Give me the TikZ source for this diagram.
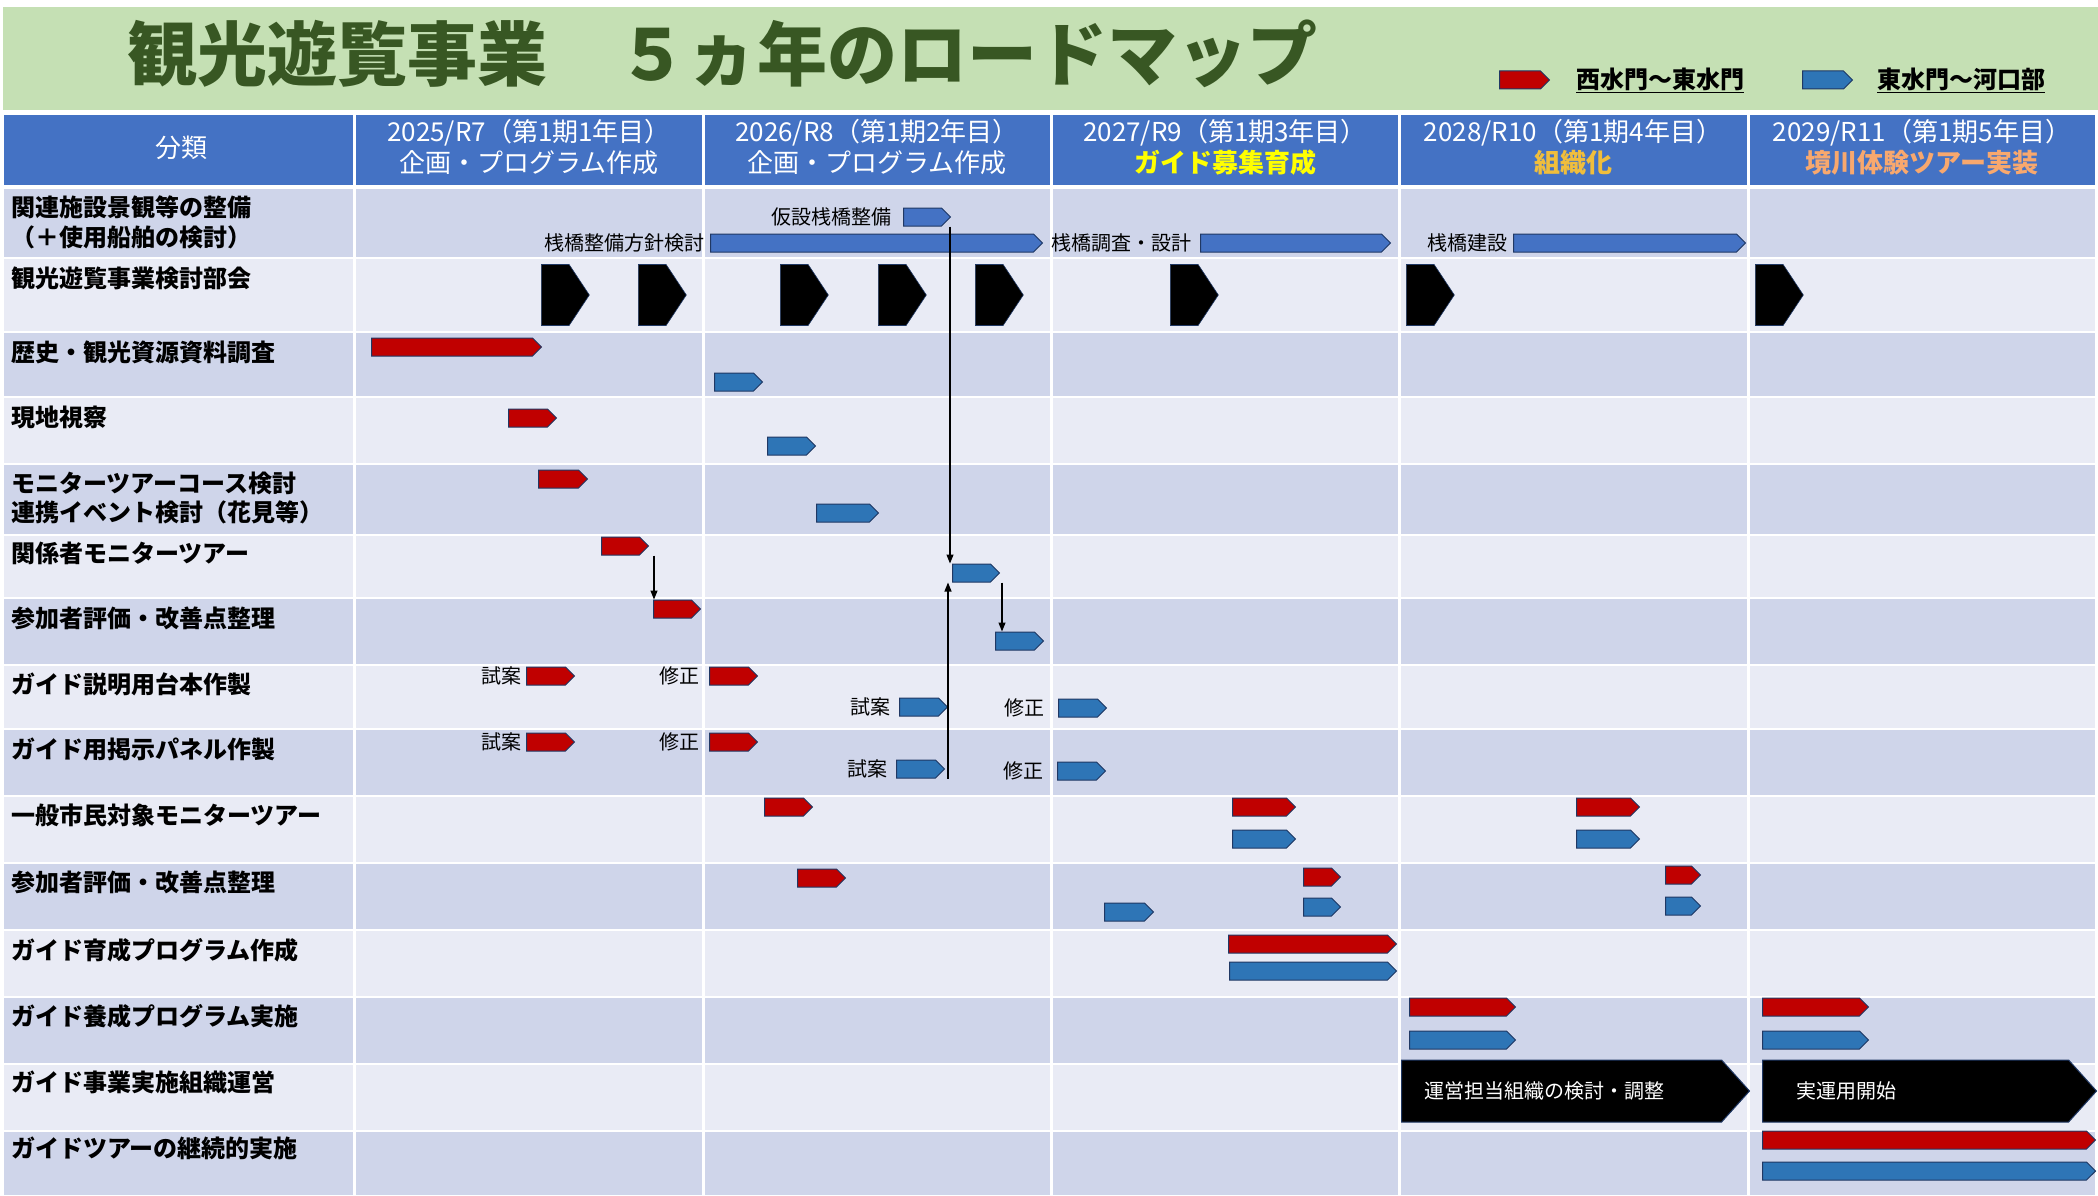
\documentclass[tikz,border=0pt]{standalone}
\usepackage{fontspec}
\setmainfont{Noto Sans CJK JP}
\usetikzlibrary{shapes.symbols,arrows.meta,positioning,calc}

\definecolor{titlegreen}{RGB}{197,224,180}
\definecolor{titletext}{RGB}{56,87,35}
\definecolor{hdblue}{RGB}{68,114,196}
\definecolor{rowdark}{RGB}{207,213,234}
\definecolor{rowlight}{RGB}{233,235,245}
\definecolor{barred}{RGB}{192,0,0}
\definecolor{barblue}{RGB}{46,117,182}
\definecolor{pierblue}{RGB}{68,114,196}
\definecolor{baredge}{RGB}{32,56,100}
\definecolor{hdyellow}{RGB}{255,255,0}
\definecolor{hdgold}{RGB}{240,190,60}
\definecolor{hdorange}{RGB}{248,168,110}

\begin{document}
\begin{tikzpicture}
[x=1pt,y=-1pt,
bar/.style={signal,signal to=east,signal pointer angle=90,draw=baredge,line width=1pt,inner sep=0pt,minimum height=18pt,anchor=west},
rbar/.style={bar,fill=barred},
bbar/.style={bar,fill=barblue},
pbar/.style={bar,fill=pierblue},
chev/.style={signal,signal to=east,signal pointer angle=113,fill=black,draw=baredge,line width=.6pt,inner sep=0pt,minimum width=48pt,minimum height=61pt,anchor=west},
bigbox/.style={signal,signal to=east,signal pointer angle=96,fill=black,draw=baredge,line width=1pt,inner sep=0pt,minimum height=62pt,anchor=west},
rowlbl/.style={anchor=west,inner sep=0pt,font=\fontsize{24}{28}\selectfont\bfseries},
note/.style={inner sep=0pt,font=\fontsize{20}{24}\selectfont},
hd/.style={align=center,text=white,inner sep=0pt,font=\fontsize{26}{31}\selectfont},
arr/.style={black,line width=1.2pt,-{Triangle[length=9pt,width=7pt]}}]
%%%%%%%%%%
\useasboundingbox (0,0) rectangle (2098,1196);
\fill[white] (0,0) rectangle (2098,1196);

% title band
\fill[titlegreen] (3,7) rectangle (2098,110);
\node[anchor=west,inner sep=0pt,text=titletext,font=\fontsize{70}{70}\selectfont\bfseries] (title) at (127,54) {観光遊覧事業　５ヵ年のロードマップ};

% legend
\node[rbar,minimum width=50pt] (legred) at (1499,80) {};
\node[anchor=west,inner sep=0pt,font=\fontsize{24}{28}\selectfont\bfseries] (legredtxt) at (1576,80) {\underline{西水門～東水門}};
\node[bbar,minimum width=50pt] (legblue) at (1802,80) {};
\node[anchor=west,inner sep=0pt,font=\fontsize{24}{28}\selectfont\bfseries] (legbluetxt) at (1877,80) {\underline{東水門～河口部}};

% header
\fill[hdblue] (4,115) rectangle (2095,185);
\node[hd] (hd0) at (181,148) {分類};
\node[hd] (hd1) at (529,147.5) {2025/R7（第1期1年目）\\企画・プログラム作成};
\node[hd] (hd2) at (877,147.5) {2026/R8（第1期2年目）\\企画・プログラム作成};
\node[hd] (hd3) at (1225,147.5) {2027/R9（第1期3年目）\\{\bfseries\color{hdyellow}ガイド募集育成}};
\node[hd] (hd4) at (1573,147.5) {2028/R10（第1期4年目）\\{\bfseries\color{hdgold}組織化}};
\node[hd] (hd5) at (1922,147.5) {2029/R11（第1期5年目）\\{\bfseries\color{hdorange}境川体験ツアー実装}};

% row bands
\foreach \t/\b/\c in {189/258/rowdark,258/332/rowlight,332/397/rowdark,397/464/rowlight,464/535/rowdark,
  535/598/rowlight,598/665/rowdark,665/729/rowlight,729/796/rowdark,796/863/rowlight,863/930/rowdark,
  930/997/rowlight,997/1064/rowdark,1064/1131/rowlight,1131/1195/rowdark}
  \fill[\c] (4,\t) rectangle (2095,\b);
\foreach \t in {258,332,397,464,535,598,665,729,796,863,930,997,1064,1131}
  \draw[white,line width=1.2pt] (4,\t) -- (2095,\t);
\foreach \x in {354.5,703.5,1051,1399,1748}
  \draw[white,line width=3pt] (\x,115) -- (\x,1195);

% row labels
\node[rowlbl] (lab1a) at (11,207) {関連施設景観等の整備};
\node[rowlbl] (lab1b) at (11,237) {（＋使用船舶の検討）};
\node[rowlbl] (lab2) at (11,278) {観光遊覧事業検討部会};
\node[rowlbl] (lab3) at (11,352) {歴史・観光資源資料調査};
\node[rowlbl] (lab4) at (11,417) {現地視察};
\node[rowlbl] (lab5a) at (11,483) {モニターツアーコース検討};
\node[rowlbl] (lab5b) at (11,512) {連携イベント検討（花見等）};
\node[rowlbl] (lab6) at (11,553) {関係者モニターツアー};
\node[rowlbl] (lab7) at (11,618) {参加者評価・改善点整理};
\node[rowlbl] (lab8) at (11,684) {ガイド説明用台本作製};
\node[rowlbl] (lab9) at (11,749) {ガイド用掲示パネル作製};
\node[rowlbl] (lab10) at (11,815) {一般市民対象モニターツアー};
\node[rowlbl] (lab11) at (11,882) {参加者評価・改善点整理};
\node[rowlbl] (lab12) at (11,950) {ガイド育成プログラム作成};
\node[rowlbl] (lab13) at (11,1016) {ガイド養成プログラム実施};
\node[rowlbl] (lab14) at (11,1082) {ガイド事業実施組織運営};
\node[rowlbl] (lab15) at (11,1148) {ガイドツアーの継続的実施};

% row 1: piers
\node[pbar,minimum width=47pt] (kasetsu) at (903,217) {};
\node[note,left=11pt of kasetsu] (kasetsutxt) {仮設桟橋整備};
\node[pbar,minimum width=332pt] (hoshin) at (710,243) {};
\node[note,left=5pt of hoshin] (hoshintxt) {桟橋整備方針検討};
\node[pbar,minimum width=190pt] (sekkei) at (1200,243) {};
\node[note,left=8pt of sekkei] (sekkeitxt) {桟橋調査・設計};
\node[pbar,minimum width=232pt] (kensetsu) at (1513,243) {};
\node[note,left=5pt of kensetsu] (kensetsutxt) {桟橋建設};

% row 2: meetings
\foreach \x [count=\i] in {541,638,780,878,975,1170,1406,1755}
  \node[chev] (bukai\i) at (\x,295) {};

% rows 3-7
\node[rbar,minimum width=170pt] (r3) at (371,347) {};
\node[bbar,minimum width=48pt] (b3) at (714,382) {};
\node[rbar,minimum width=48pt] (r4) at (508,418) {};
\node[bbar,minimum width=48pt] (b4) at (767,446) {};
\node[rbar,minimum width=49pt] (r5) at (538,479) {};
\node[bbar,minimum width=62pt] (b5) at (816,513) {};
\node[rbar,minimum width=47pt] (r6) at (601,546) {};
\node[bbar,minimum width=47pt] (b6) at (952,573) {};
\node[rbar,minimum width=47pt] (r7) at (653,609) {};
\node[bbar,minimum width=48pt] (b7) at (995,641) {};

% rows 8-9: drafts and revisions
\node[rbar,minimum width=48pt] (r8a) at (526,676) {};
\node[note,left=4pt of r8a] (r8atxt) {試案};
\node[rbar,minimum width=48pt] (r8b) at (709,676) {};
\node[note,left=9pt of r8b] (r8btxt) {修正};
\node[bbar,minimum width=48pt] (b8a) at (899,707) {};
\node[note,left=8pt of b8a] (b8atxt) {試案};
\node[bbar,minimum width=48pt] (b8b) at (1058,708) {};
\node[note,left=13pt of b8b] (b8btxt) {修正};
\node[rbar,minimum width=48pt] (r9a) at (526,742) {};
\node[note,left=4pt of r9a] (r9atxt) {試案};
\node[rbar,minimum width=48pt] (r9b) at (709,742) {};
\node[note,left=9pt of r9b] (r9btxt) {修正};
\node[bbar,minimum width=48pt] (b9a) at (896,769) {};
\node[note,left=8pt of b9a] (b9atxt) {試案};
\node[bbar,minimum width=48pt] (b9b) at (1057,771) {};
\node[note,left=13pt of b9b] (b9btxt) {修正};

% rows 10-11
\node[rbar,minimum width=48pt] (r10a) at (764,807) {};
\node[rbar,minimum width=63pt] (r10b) at (1232,807) {};
\node[bbar,minimum width=63pt] (b10b) at (1232,839) {};
\node[rbar,minimum width=63pt] (r10c) at (1576,807) {};
\node[bbar,minimum width=63pt] (b10c) at (1576,839) {};
\node[rbar,minimum width=48pt] (r11a) at (797,878) {};
\node[bbar,minimum width=49pt] (b11a) at (1104,912) {};
\node[rbar,minimum width=37pt] (r11b) at (1303,877) {};
\node[bbar,minimum width=37pt] (b11b) at (1303,907) {};
\node[rbar,minimum width=35pt] (r11c) at (1665,875) {};
\node[bbar,minimum width=35pt] (b11c) at (1665,906) {};

% rows 12-15
\node[rbar,minimum width=168pt] (r12) at (1228,944) {};
\node[bbar,minimum width=167pt] (b12) at (1229,971) {};
\node[rbar,minimum width=106pt] (r13a) at (1409,1007) {};
\node[bbar,minimum width=106pt] (b13a) at (1409,1040) {};
\node[rbar,minimum width=106pt] (r13b) at (1762,1007) {};
\node[bbar,minimum width=106pt] (b13b) at (1762,1040) {};
\node[bigbox,minimum width=348pt] (unei) at (1401,1091) {};
\node[anchor=west,inner sep=0pt,text=white,font=\fontsize{20}{24}\selectfont] (ueitxt) at ([xshift=23pt]unei.west) {運営担当組織の検討・調整};
\node[bigbox,minimum width=334pt] (jitsu) at (1762,1091) {};
\node[anchor=west,inner sep=0pt,text=white,font=\fontsize{20}{24}\selectfont] (jitsutxt) at ([xshift=34pt]jitsu.west) {実運用開始};
\node[rbar,minimum width=333pt] (r15) at (1762,1140) {};
\node[bbar,minimum width=333pt] (b15) at (1762,1171) {};

% links
\draw[arr] ([xshift=1pt]r7.north west |- r6.south) -- ([xshift=1pt]r7.north west);
\draw[arr] ([xshift=-2pt]b6.north west |- kasetsu.south) -- ([xshift=-2pt]b6.north west);
\draw[arr] ([xshift=-4pt]b6.south west |- b9a.south) -- ([xshift=-4pt]b6.south west);
\draw[arr] ([xshift=7pt]b7.north west |- b6.south) -- ([xshift=7pt]b7.north west);
\end{tikzpicture}
\end{document}
